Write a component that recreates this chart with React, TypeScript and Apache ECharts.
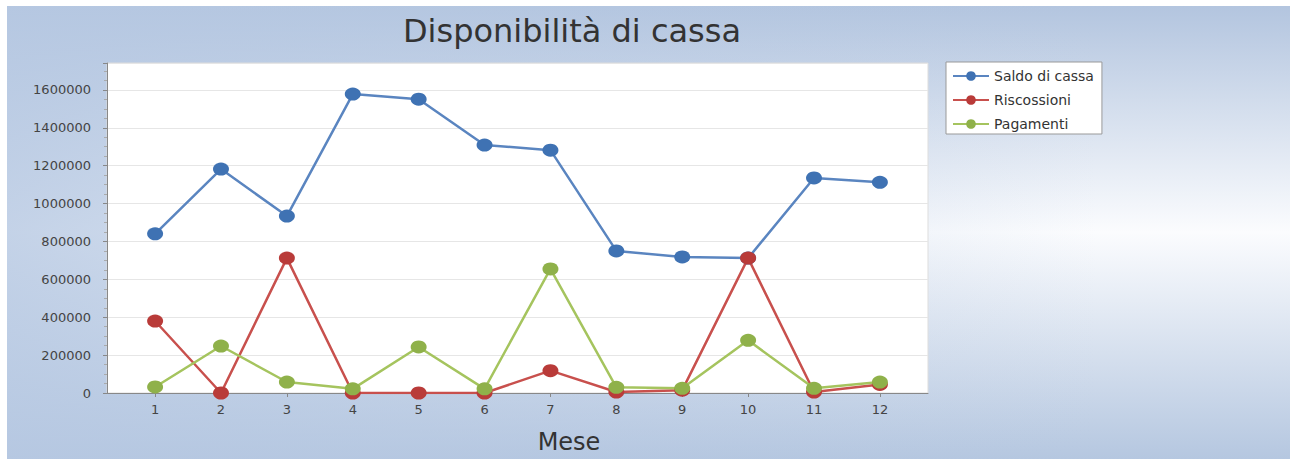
import React, { useEffect, useRef } from "react";
import * as echarts from "echarts";

const months = [1, 2, 3, 4, 5, 6, 7, 8, 9, 10, 11, 12];
const saldo = [840000, 1182000, 934000, 1578000, 1551000, 1309000, 1282000, 750000, 718000, 712000, 1135000, 1112000];
const riscossioni = [380000, 0, 712000, 0, 0, 0, 118000, 5000, 15000, 712000, 5000, 45000];
const pagamenti = [32000, 248000, 58000, 22000, 243000, 22000, 655000, 30000, 25000, 278000, 25000, 58000];
const seriesNames = ["Saldo di cassa", "Riscossioni", "Pagamenti"];

const FONT = "DejaVu Sans";

export default function App() {
  const ref = useRef<HTMLDivElement>(null);
  useEffect(() => {
    if (!ref.current) return;
    const chart = echarts.init(ref.current, null, { renderer: "svg" });
    const mk = (name: string, vals: number[], line: string, mark: string) => ({
      name,
      type: "line",
      data: months.map((m, i) => [m, vals[i]]),
      symbol: "circle",
      symbolSize: [16, 13],
      lineStyle: { color: line, width: 2.5 },
      itemStyle: { color: mark },
    });
    chart.setOption({
      animation: false,
      backgroundColor: {
        type: "linear",
        x: 0, y: 0, x2: 0, y2: 1,
        colorStops: [
          { offset: 0, color: "#b3c5df" },
          { offset: 0.5, color: "#fbfcfe" },
          { offset: 1, color: "#b5c7e0" },
        ],
      },
      graphic: [
        {
          type: "rect",
          z: -100,
          silent: true,
          shape: { x: 0, y: 0, width: 1283, height: 453 },
          style: {
            fill: {
              type: "linear",
              x: 0, y: 0, x2: 1, y2: 0,
              colorStops: [
                { offset: 0, color: "rgba(182,200,226,0.8)" },
                { offset: 0.85, color: "rgba(182,200,226,0)" },
              ],
            },
          },
        },
      ],
      title: {
        text: "Disponibilità di cassa",
        left: 560,
        top: 4,
        textAlign: "center",
        textStyle: { fontFamily: FONT, fontSize: 32, fontWeight: "normal", color: "#333" },
      },
      legend: {
        orient: "vertical",
        left: 939,
        top: 56,
        padding: [7, 8, 3, 6],
        backgroundColor: "#fff",
        borderColor: "#999",
        borderWidth: 1,
        itemWidth: 36,
        itemHeight: 12,
        itemGap: 10,
        data: seriesNames,
        textStyle: { fontFamily: FONT, fontSize: 14, color: "#333" },
      },
      grid: {
        left: 100,
        top: 57,
        width: 821,
        height: 330,
        show: true,
        backgroundColor: "#fff",
        borderColor: "#ddd",
        borderWidth: 1,
        outerBoundsMode: "none",
        containLabel: false,
      },
      xAxis: {
        type: "value",
        min: 0.27,
        max: 12.73,
        name: "Mese",
        nameLocation: "middle",
        nameGap: 37,
        nameTextStyle: { fontFamily: FONT, fontSize: 24, color: "#333", padding: [0, 0, 0, 103] },
        axisLine: { show: true, lineStyle: { color: "#888" } },
        axisTick: { show: true, length: 4, lineStyle: { color: "#888" }, customValues: months },
        axisLabel: { customValues: months, margin: 10, fontFamily: FONT, fontSize: 13, color: "#444" },
        splitLine: { show: false },
      },
      yAxis: {
        type: "value",
        min: 0,
        max: 1742000,
        interval: 200000,
        axisLine: { show: true, lineStyle: { color: "#888" } },
        axisTick: { show: true, length: 4, lineStyle: { color: "#888" } },
        minorTick: { show: true, splitNumber: 4, length: 3, lineStyle: { color: "#aaa" } },
        axisLabel: {
          margin: 16,
          fontFamily: FONT,
          fontSize: 13,
          color: "#444",
          showMaxLabel: false,
          formatter: (v: number) => String(v),
        },
        splitLine: { show: true, lineStyle: { color: "#e6e6e6" } },
      },
      series: [
        mk(seriesNames[0], saldo, "#5a85c0", "#3f72b3"),
        mk(seriesNames[1], riscossioni, "#c8504d", "#b93b39"),
        mk(seriesNames[2], pagamenti, "#a5c45e", "#8fb14a"),
      ],
    });
    return () => chart.dispose();
  }, []);
  return (
    <div
      ref={ref}
      style={{ position: "absolute", left: 7, top: 6, width: 1283, height: 453 }}
    />
  );
}
